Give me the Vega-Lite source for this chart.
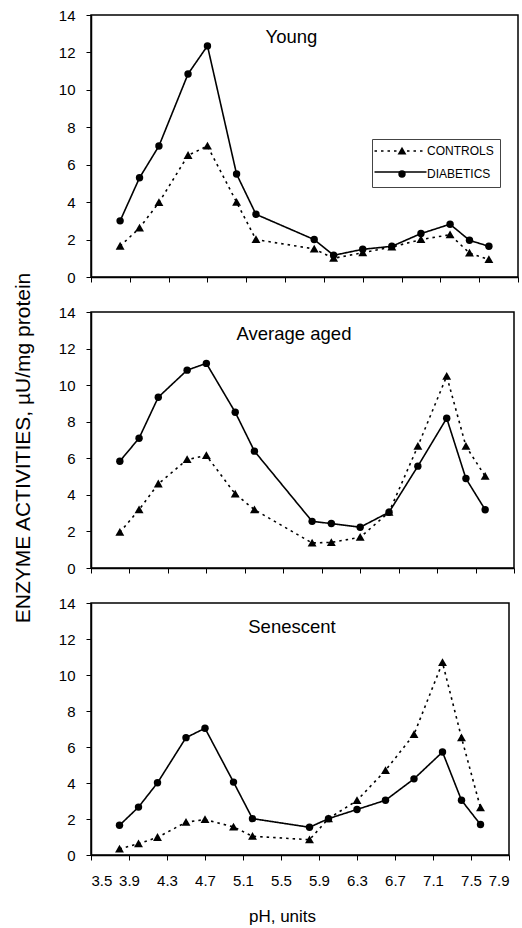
{
  "$schema": "https://vega.github.io/schema/vega-lite/v6.json",
  "background": "white",
  "padding": {"left": 12, "top": 7, "right": 4, "bottom": 2},
  "spacing": 18,
  "title": {"text": "ENZYME ACTIVITIES, µU/mg protein", "orient": "left", "anchor": "middle", "fontSize": 21, "offset": 24, "dx": 18},
  "resolve": {"legend": {"shape": "independent", "strokeDash": "independent"}},
  "config": {
    "font": "Liberation Sans",
    "view": {"stroke": "black", "strokeWidth": 1.5},
    "axis": {
      "domainColor": "black", "domainWidth": 1.5, "tickColor": "black", "tickSize": 5, "tickWidth": 1,
      "labelColor": "black", "labelFont": "Liberation Sans", "labelFontSize": 15, "grid": false,
      "titleColor": "black", "titleFont": "Liberation Sans", "titleFontWeight": "normal"
    },
    "axisY": {"labelPadding": 11},
    "axisX": {"labelPadding": 13},
    "title": {"font": "Liberation Sans", "fontSize": 18.5, "fontWeight": "normal", "color": "black"}
  },
  "datasets": {
    "rows": [
      {"p": "Young", "g": "DIABETICS", "ph": 3.8, "v": 3.0},
      {"p": "Young", "g": "DIABETICS", "ph": 4.0, "v": 5.3},
      {"p": "Young", "g": "DIABETICS", "ph": 4.2, "v": 7.0},
      {"p": "Young", "g": "DIABETICS", "ph": 4.5, "v": 10.85},
      {"p": "Young", "g": "DIABETICS", "ph": 4.7, "v": 12.35},
      {"p": "Young", "g": "DIABETICS", "ph": 5.0, "v": 5.5},
      {"p": "Young", "g": "DIABETICS", "ph": 5.2, "v": 3.35},
      {"p": "Young", "g": "DIABETICS", "ph": 5.8, "v": 2.0},
      {"p": "Young", "g": "DIABETICS", "ph": 6.0, "v": 1.16},
      {"p": "Young", "g": "DIABETICS", "ph": 6.3, "v": 1.48},
      {"p": "Young", "g": "DIABETICS", "ph": 6.6, "v": 1.64},
      {"p": "Young", "g": "DIABETICS", "ph": 6.9, "v": 2.32},
      {"p": "Young", "g": "DIABETICS", "ph": 7.2, "v": 2.82},
      {"p": "Young", "g": "DIABETICS", "ph": 7.4, "v": 1.96},
      {"p": "Young", "g": "DIABETICS", "ph": 7.6, "v": 1.64},
      {"p": "Young", "g": "CONTROLS", "ph": 3.8, "v": 1.65},
      {"p": "Young", "g": "CONTROLS", "ph": 4.0, "v": 2.62},
      {"p": "Young", "g": "CONTROLS", "ph": 4.2, "v": 3.98},
      {"p": "Young", "g": "CONTROLS", "ph": 4.5, "v": 6.5},
      {"p": "Young", "g": "CONTROLS", "ph": 4.7, "v": 7.0},
      {"p": "Young", "g": "CONTROLS", "ph": 5.0, "v": 4.0},
      {"p": "Young", "g": "CONTROLS", "ph": 5.2, "v": 2.0},
      {"p": "Young", "g": "CONTROLS", "ph": 5.8, "v": 1.5},
      {"p": "Young", "g": "CONTROLS", "ph": 6.0, "v": 1.0},
      {"p": "Young", "g": "CONTROLS", "ph": 6.3, "v": 1.3},
      {"p": "Young", "g": "CONTROLS", "ph": 6.6, "v": 1.6},
      {"p": "Young", "g": "CONTROLS", "ph": 6.9, "v": 2.0},
      {"p": "Young", "g": "CONTROLS", "ph": 7.2, "v": 2.26},
      {"p": "Young", "g": "CONTROLS", "ph": 7.4, "v": 1.28},
      {"p": "Young", "g": "CONTROLS", "ph": 7.6, "v": 0.93},
      {"p": "Average aged", "g": "DIABETICS", "ph": 3.8, "v": 5.84},
      {"p": "Average aged", "g": "DIABETICS", "ph": 4.0, "v": 7.1},
      {"p": "Average aged", "g": "DIABETICS", "ph": 4.2, "v": 9.34},
      {"p": "Average aged", "g": "DIABETICS", "ph": 4.5, "v": 10.82},
      {"p": "Average aged", "g": "DIABETICS", "ph": 4.7, "v": 11.19},
      {"p": "Average aged", "g": "DIABETICS", "ph": 5.0, "v": 8.52},
      {"p": "Average aged", "g": "DIABETICS", "ph": 5.2, "v": 6.39},
      {"p": "Average aged", "g": "DIABETICS", "ph": 5.8, "v": 2.55},
      {"p": "Average aged", "g": "DIABETICS", "ph": 6.0, "v": 2.43},
      {"p": "Average aged", "g": "DIABETICS", "ph": 6.3, "v": 2.23},
      {"p": "Average aged", "g": "DIABETICS", "ph": 6.6, "v": 3.05},
      {"p": "Average aged", "g": "DIABETICS", "ph": 6.9, "v": 5.57},
      {"p": "Average aged", "g": "DIABETICS", "ph": 7.2, "v": 8.19},
      {"p": "Average aged", "g": "DIABETICS", "ph": 7.4, "v": 4.89},
      {"p": "Average aged", "g": "DIABETICS", "ph": 7.6, "v": 3.19},
      {"p": "Average aged", "g": "CONTROLS", "ph": 3.8, "v": 1.95},
      {"p": "Average aged", "g": "CONTROLS", "ph": 4.0, "v": 3.19},
      {"p": "Average aged", "g": "CONTROLS", "ph": 4.2, "v": 4.6},
      {"p": "Average aged", "g": "CONTROLS", "ph": 4.5, "v": 5.93},
      {"p": "Average aged", "g": "CONTROLS", "ph": 4.7, "v": 6.15},
      {"p": "Average aged", "g": "CONTROLS", "ph": 5.0, "v": 4.05},
      {"p": "Average aged", "g": "CONTROLS", "ph": 5.2, "v": 3.19},
      {"p": "Average aged", "g": "CONTROLS", "ph": 5.8, "v": 1.37},
      {"p": "Average aged", "g": "CONTROLS", "ph": 6.0, "v": 1.4},
      {"p": "Average aged", "g": "CONTROLS", "ph": 6.3, "v": 1.68},
      {"p": "Average aged", "g": "CONTROLS", "ph": 6.6, "v": 3.05},
      {"p": "Average aged", "g": "CONTROLS", "ph": 6.9, "v": 6.66},
      {"p": "Average aged", "g": "CONTROLS", "ph": 7.2, "v": 10.49},
      {"p": "Average aged", "g": "CONTROLS", "ph": 7.4, "v": 6.66},
      {"p": "Average aged", "g": "CONTROLS", "ph": 7.6, "v": 5.02},
      {"p": "Senescent", "g": "DIABETICS", "ph": 3.8, "v": 1.65},
      {"p": "Senescent", "g": "DIABETICS", "ph": 4.0, "v": 2.66},
      {"p": "Senescent", "g": "DIABETICS", "ph": 4.2, "v": 4.01},
      {"p": "Senescent", "g": "DIABETICS", "ph": 4.5, "v": 6.52},
      {"p": "Senescent", "g": "DIABETICS", "ph": 4.7, "v": 7.04},
      {"p": "Senescent", "g": "DIABETICS", "ph": 5.0, "v": 4.05},
      {"p": "Senescent", "g": "DIABETICS", "ph": 5.2, "v": 2.02},
      {"p": "Senescent", "g": "DIABETICS", "ph": 5.8, "v": 1.54},
      {"p": "Senescent", "g": "DIABETICS", "ph": 6.0, "v": 2.02},
      {"p": "Senescent", "g": "DIABETICS", "ph": 6.3, "v": 2.53},
      {"p": "Senescent", "g": "DIABETICS", "ph": 6.6, "v": 3.04},
      {"p": "Senescent", "g": "DIABETICS", "ph": 6.9, "v": 4.23},
      {"p": "Senescent", "g": "DIABETICS", "ph": 7.2, "v": 5.72},
      {"p": "Senescent", "g": "DIABETICS", "ph": 7.4, "v": 3.04},
      {"p": "Senescent", "g": "DIABETICS", "ph": 7.6, "v": 1.69},
      {"p": "Senescent", "g": "CONTROLS", "ph": 3.8, "v": 0.33},
      {"p": "Senescent", "g": "CONTROLS", "ph": 4.0, "v": 0.63},
      {"p": "Senescent", "g": "CONTROLS", "ph": 4.2, "v": 0.98},
      {"p": "Senescent", "g": "CONTROLS", "ph": 4.5, "v": 1.82},
      {"p": "Senescent", "g": "CONTROLS", "ph": 4.7, "v": 1.97},
      {"p": "Senescent", "g": "CONTROLS", "ph": 5.0, "v": 1.56},
      {"p": "Senescent", "g": "CONTROLS", "ph": 5.2, "v": 1.04},
      {"p": "Senescent", "g": "CONTROLS", "ph": 5.8, "v": 0.85},
      {"p": "Senescent", "g": "CONTROLS", "ph": 6.0, "v": 2.02},
      {"p": "Senescent", "g": "CONTROLS", "ph": 6.3, "v": 3.03},
      {"p": "Senescent", "g": "CONTROLS", "ph": 6.6, "v": 4.7},
      {"p": "Senescent", "g": "CONTROLS", "ph": 6.9, "v": 6.7},
      {"p": "Senescent", "g": "CONTROLS", "ph": 7.2, "v": 10.69},
      {"p": "Senescent", "g": "CONTROLS", "ph": 7.4, "v": 6.52},
      {"p": "Senescent", "g": "CONTROLS", "ph": 7.6, "v": 2.62}
    ]
  },
  "vconcat": [
    {
      "width": 427, "height": 262,
      "title": {"text": "Young", "anchor": "middle", "dx": -13, "offset": -38},
      "data": {"name": "rows"},
      "transform": [{"filter": "datum.p === 'Young'"}],
      "encoding": {
        "x": {"field": "ph", "type": "quantitative", "scale": {"domain": [3.5, 7.9], "nice": false, "zero": false},
              "axis": {"values": [3.5, 3.9, 4.3, 4.7, 5.1, 5.5, 5.9, 6.3, 6.7, 7.1, 7.5, 7.9], "labels": false, "title": null}},
        "y": {"field": "v", "type": "quantitative", "scale": {"domain": [0, 14], "nice": false},
              "axis": {"values": [0, 2, 4, 6, 8, 10, 12, 14], "title": null}}
      },
      "layer": [
        {"mark": {"type": "line", "color": "black", "strokeWidth": 1.6},
         "encoding": {"strokeDash": {"field": "g", "type": "nominal", "scale": {"range": [[2.5, 4], [1, 0]]},
           "legend": {
             "title": null, "orient": "none", "legendX": 281, "legendY": 124,
             "padding": 6, "symbolSize": 100, "symbolType": "M-5.2,0H5.2", "symbolOffset": 16.5,
             "labelOffset": 19, "rowPadding": 9, "labelFont": "Liberation Sans", "labelFontSize": 12, "labelExpr": "' '",
             "symbolStrokeColor": "black", "symbolFillColor": "transparent", "symbolStrokeWidth": 1.5
           }}}},
        {"mark": {"type": "point", "filled": true, "color": "black", "opacity": 1, "size": 55},
         "encoding": {"shape": {"field": "g", "type": "nominal", "scale": {"domain": ["CONTROLS", "DIABETICS"], "range": ["M0,-1.15L1.2,0.95L-1.2,0.95Z", "circle"]},
           "legend": {
             "title": null, "orient": "none", "legendX": 281, "legendY": 124,
             "strokeColor": "#444", "padding": 6,
             "symbolSize": 55, "symbolOffset": 18, "labelOffset": 19, "rowPadding": 9,
             "labelFont": "Liberation Sans", "labelFontSize": 12, "labelColor": "black",
             "symbolFillColor": "black", "symbolStrokeColor": "black", "symbolStrokeWidth": 1.5
           }}}}
      ]
    },
    {
      "width": 423, "height": 256,
      "title": {"text": "Average aged", "anchor": "middle", "dx": -8.5, "offset": -38},
      "data": {"name": "rows"},
      "transform": [{"filter": "datum.p === 'Average aged'"}],
      "encoding": {
        "x": {"field": "ph", "type": "quantitative", "scale": {"domain": [3.5, 7.9], "nice": false, "zero": false},
              "axis": {"values": [3.5, 3.9, 4.3, 4.7, 5.1, 5.5, 5.9, 6.3, 6.7, 7.1, 7.5, 7.9], "labels": false, "title": null}},
        "y": {"field": "v", "type": "quantitative", "scale": {"domain": [0, 14], "nice": false},
              "axis": {"values": [0, 2, 4, 6, 8, 10, 12, 14], "title": null}}
      },
      "layer": [
        {"mark": {"type": "line", "color": "black", "strokeWidth": 1.6},
         "encoding": {"strokeDash": {"field": "g", "type": "nominal", "scale": {"range": [[2.5, 4], [1, 0]]}, "legend": null}}},
        {"mark": {"type": "point", "filled": true, "color": "black", "opacity": 1, "size": 55},
         "encoding": {"shape": {"field": "g", "type": "nominal", "scale": {"domain": ["CONTROLS", "DIABETICS"], "range": ["M0,-1.15L1.2,0.95L-1.2,0.95Z", "circle"]}, "legend": null}}}
      ]
    },
    {
      "width": 418, "height": 252,
      "title": {"text": "Senescent", "anchor": "middle", "dx": -8, "offset": -40},
      "data": {"name": "rows"},
      "transform": [{"filter": "datum.p === 'Senescent'"}],
      "encoding": {
        "x": {"field": "ph", "type": "quantitative", "scale": {"domain": [3.5, 7.9], "nice": false, "zero": false},
              "axis": {"values": [3.5, 3.9, 4.3, 4.7, 5.1, 5.5, 5.9, 6.3, 6.7, 7.1, 7.5, 7.9], "format": ".1f",
                       "title": "pH, units", "titleFontSize": 17, "titleX": 191, "titleY": 53}},
        "y": {"field": "v", "type": "quantitative", "scale": {"domain": [0, 14], "nice": false},
              "axis": {"values": [0, 2, 4, 6, 8, 10, 12, 14], "title": null}}
      },
      "layer": [
        {"mark": {"type": "line", "color": "black", "strokeWidth": 1.6},
         "encoding": {"strokeDash": {"field": "g", "type": "nominal", "scale": {"range": [[2.5, 4], [1, 0]]}, "legend": null}}},
        {"mark": {"type": "point", "filled": true, "color": "black", "opacity": 1, "size": 55},
         "encoding": {"shape": {"field": "g", "type": "nominal", "scale": {"domain": ["CONTROLS", "DIABETICS"], "range": ["M0,-1.15L1.2,0.95L-1.2,0.95Z", "circle"]}, "legend": null}}}
      ]
    }
  ]
}
